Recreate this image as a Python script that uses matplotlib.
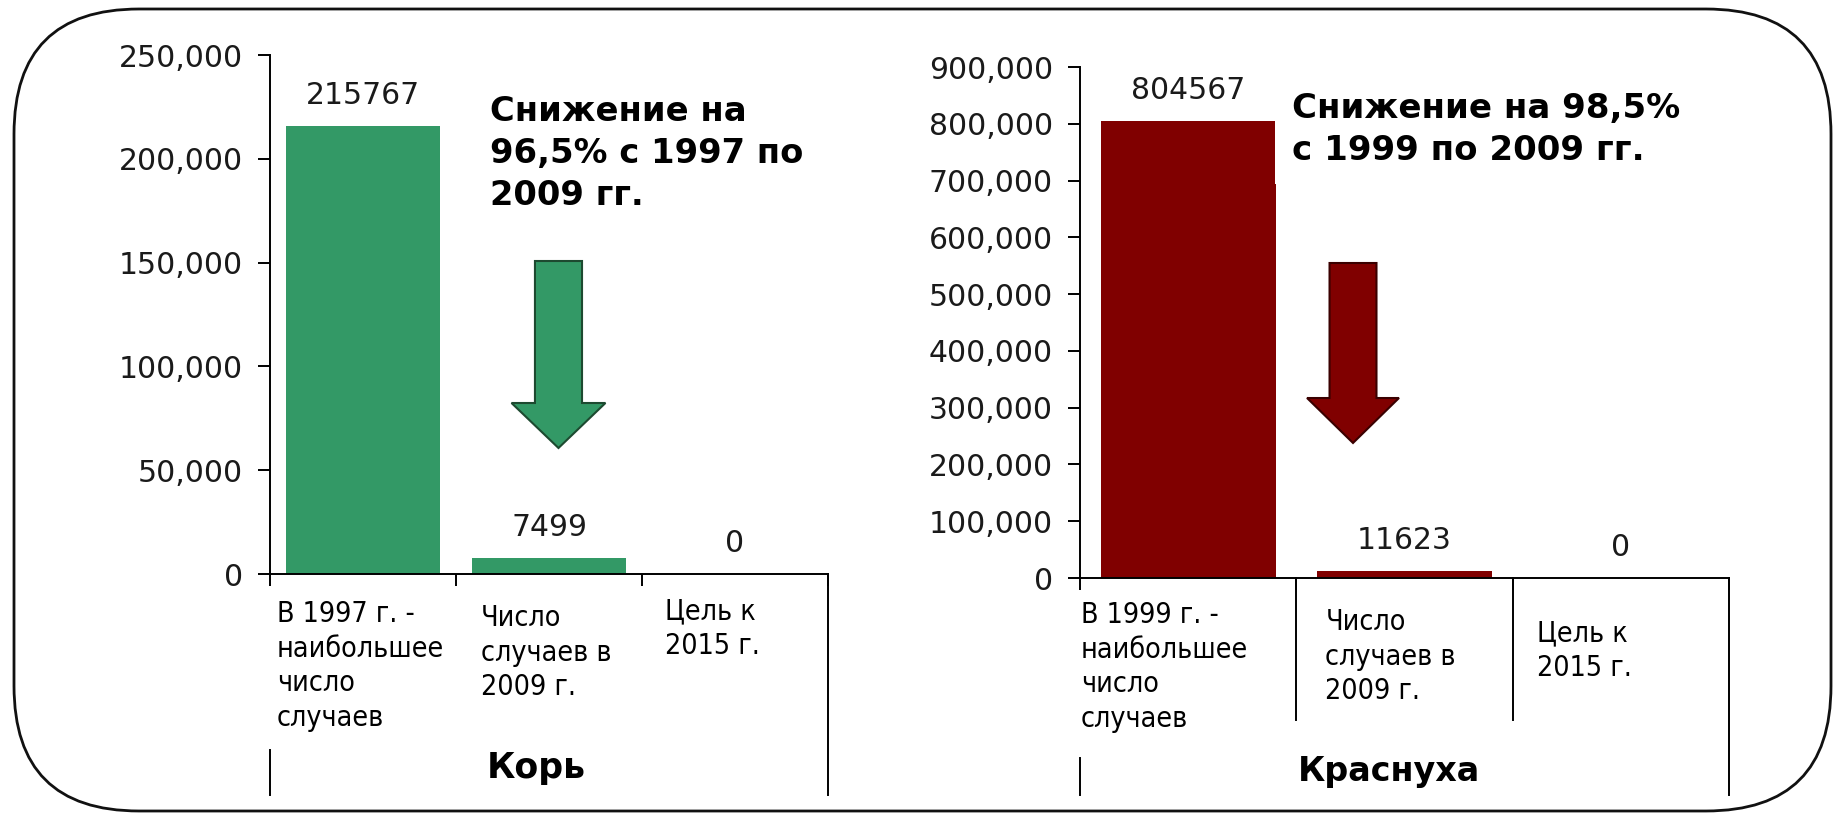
import matplotlib
matplotlib.use("Agg")
import matplotlib.pyplot as plt
from matplotlib import ticker
from matplotlib.patches import FancyArrow, FancyBboxPatch
from matplotlib.lines import Line2D
from matplotlib.transforms import IdentityTransform

W, H = 1838, 822

# --- data ---
measles_labels = ["В 1997 г. -\nнаибольшее\nчисло\nслучаев",
                  "Число\nслучаев в\n2009 г.",
                  "Цель к\n2015 г."]
measles_values = [215767, 7499, 0]
measles_ticks = [0, 50000, 100000, 150000, 200000, 250000]

rubella_labels = ["В 1999 г. -\nнаибольшее\nчисло\nслучаев",
                  "Число\nслучаев в\n2009 г.",
                  "Цель к\n2015 г."]
rubella_values = [804567, 11623, 0]
rubella_ticks = [0, 100000, 200000, 300000, 400000, 500000,
                 600000, 700000, 800000, 900000]

GREEN = "#339966"
RED = "#800000"

plt.rcParams["font.family"] = ["DejaVu Sans"]


def fx(x):
    return x / W


def fy(y):
    return 1 - y / H


def ax_y(ax, ypx):
    bb = ax.get_position()
    return (fy(ypx) - bb.y0) / bb.height


def panel(ax, values, labels, color, ymax, yticks, bar_w,
          label_dx, label_top, vlines):
    x = list(range(len(values)))
    ax.bar(x, values, width=bar_w, color=color, zorder=2)
    ax.set_xlim(-0.5, len(values) - 0.5)
    ax.set_ylim(0, ymax)
    ax.set_yticks(yticks)
    ax.yaxis.set_major_formatter(ticker.StrMethodFormatter("{x:,.0f}"))
    ax.set_xticks([i - 0.5 for i in range(len(values) + 1)])
    ax.set_xticklabels([])
    for s in ("top", "right"):
        ax.spines[s].set_visible(False)
    for s in ("left", "bottom"):
        ax.spines[s].set_linewidth(1.4)
    ax.tick_params(direction="out", length=8.6, width=1.4)
    ax.tick_params(axis="y", labelsize=21.5, pad=11, labelcolor="#1a1a1a")
    ax.set_facecolor("none")

    for xi, v in zip(x, values):
        ax.annotate(str(v), (xi, v), xytext=(0, 22), textcoords="offset points",
                    ha="center", va="center", fontsize=21.5, color="#1a1a1a")

    tr = ax.get_xaxis_transform()
    cat_px = ax.get_position().width * W / len(values)
    for i, (lab, dx, top) in enumerate(zip(labels, label_dx, label_top)):
        ax.text(i - 0.5 + dx / cat_px, ax_y(ax, top - 5), lab, transform=tr,
                ha="left", va="top", fontsize=20.5, fontstretch="condensed",
                linespacing=1.3, clip_on=False)

    for b, y0, y1 in vlines:
        ax.add_line(Line2D([b, b], [ax_y(ax, y0), ax_y(ax, y1)], transform=tr,
                           color="black", lw=1.4, clip_on=False))


fig = plt.figure(figsize=(W / 100, H / 100), dpi=100)

ax1 = fig.add_axes([fx(270), fy(574), (828 - 270) / W, (574 - 55) / H])
panel(ax1, measles_values, measles_labels, GREEN, 250000, measles_ticks, 0.83,
      label_dx=[7, 25, 23], label_top=[605, 609, 602],
      vlines=[(-0.5, 750, 795), (2.5, 574, 795)])

ax2 = fig.add_axes([fx(1080), fy(578), (1729 - 1080) / W, (578 - 67) / H])
panel(ax2, rubella_values, rubella_labels, RED, 900000, rubella_ticks, 0.81,
      label_dx=[1, 29, 24], label_top=[606, 613, 624],
      vlines=[(-0.5, 758, 795), (0.5, 578, 720), (1.5, 578, 720),
              (2.5, 578, 795)])

# block arrows
ax1.add_patch(FancyArrow(1.051, 150770, 0, 60690 - 150770, width=0.253,
                         head_width=0.505, head_length=82370 - 60690,
                         length_includes_head=True, fc=GREEN, ec="#1d4a30",
                         lw=1.5, zorder=3))
ax2.add_patch(FancyArrow(0.762, 554800, 0, 237800 - 554800, width=0.217,
                         head_width=0.425, head_length=317000 - 237800,
                         length_includes_head=True, fc=RED, ec="#3a0000",
                         lw=1.5, zorder=3))

# annotations
fig.text(fx(490), fy(95), "Снижение на\n96,5% с 1997 по\n2009 гг.",
         fontsize=24.3, fontweight="bold", va="top", ha="left", linespacing=1.35)
fig.text(fx(1292), fy(92), "Снижение на 98,5%\nс 1999 по 2009 гг.",
         fontsize=24.5, fontweight="bold", va="top", ha="left", linespacing=1.35,
         bbox=dict(fc="white", ec="none", pad=12), zorder=5)

fig.text(fx(536), fy(768), "Корь", fontsize=25, fontweight="bold",
         ha="center", va="center")
fig.text(fx(1389), fy(771), "Краснуха", fontsize=24, fontweight="bold",
         ha="center", va="center")

# rounded frame round the whole slide
frame = FancyBboxPatch((14, H - 811), 1831 - 14, 811 - 9,
                       boxstyle="round,pad=0,rounding_size=125",
                       transform=IdentityTransform(), fill=False,
                       ec="#111111", lw=2)
fig.add_artist(frame)

fig.savefig("out.png", dpi=100)
